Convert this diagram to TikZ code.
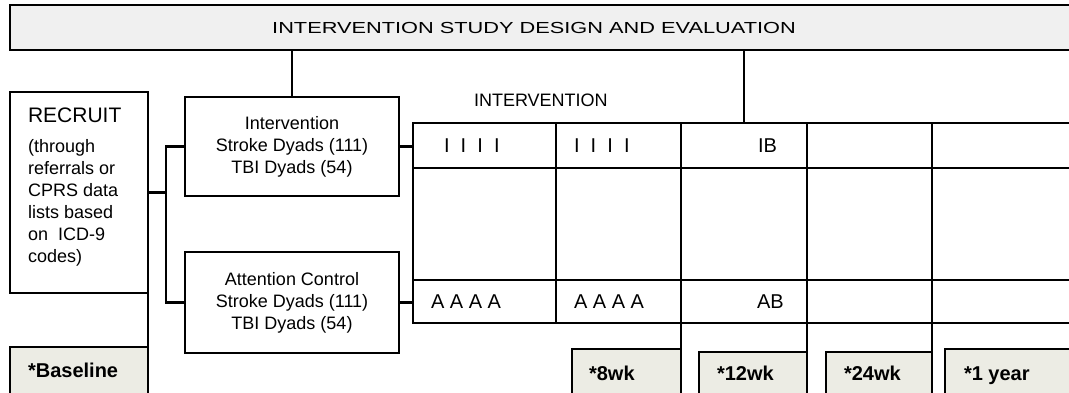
\documentclass[tikz,border=0pt]{standalone}
\usepackage{fontspec}
\setmainfont{Liberation Sans}
\usepackage{graphicx}
\usepackage{tikz}
\usetikzlibrary{positioning}
\definecolor{titlegray}{RGB}{240,240,240}
\definecolor{timegray}{RGB}{236,236,228}

\begin{document}
\begin{tikzpicture}[x=1pt, y=-1pt, line width=2.1pt,
    box/.style={draw=black, rectangle, inner sep=0pt, outer sep=0pt},
    cell/.style={box, anchor=north west},
    timebox/.style={box, fill=timegray, anchor=north west, minimum height=60pt},
    timetext/.style={font=\fontsize{20}{24}\selectfont\bfseries, anchor=base west, inner sep=0pt},
    celltext/.style={font=\fontsize{20}{24}\selectfont, anchor=west, inner sep=0pt},
    grouptext/.style={font=\fontsize{18}{22}\selectfont, align=center}]
    \useasboundingbox (0,0) rectangle (1069,393);
    \clip (0,0) rectangle (1069,393);

    % draw title bar
    \node[box, fill=titlegray, minimum width=1070pt, minimum height=45pt,
      font=\fontsize{16}{18}\selectfont] (title) at (545,27.5)
      {\hspace*{-22pt}\raisebox{-3pt}{\scalebox{1.36}[1]{INTERVENTION STUDY DESIGN AND EVALUATION}}};

    % draw recruit box
    \node[box, minimum width=138pt, minimum height=201pt] (recruit) at (79,192.5) {};
    \node[anchor=north west, inner sep=0pt, align=left, font=\fontsize{18}{22}\selectfont] (recruittext)
      at ([xshift=17pt, yshift=-15pt]recruit.north west)
      {{\fontsize{21}{25}\selectfont RECRUIT}\\[8pt](through\\referrals or\\CPRS data\\lists based\\on\ \ ICD-9\\codes)};

    % draw group boxes
    \node[box, grouptext, minimum width=214pt, minimum height=99pt] (intv) at (292,146.5)
      {Intervention\\Stroke Dyads (111)\\TBI Dyads (54)};
    \node[box, grouptext, minimum width=214pt, minimum height=101pt] (ctrl) at (292,302.5)
      {Attention Control\\Stroke Dyads (111)\\TBI Dyads (54)};

    % draw session table
    \node[font=\fontsize{18}{22}\selectfont, anchor=base west, inner sep=0pt] (armlabel) at (473,107) {INTERVENTION};
    \foreach \x/\w [count=\i] in {413/143, 556/125, 681/126, 807/125, 932/150}
      \foreach \y/\h [count=\j] in {123/45, 168/112, 280/43}
        \node[cell, minimum width=\w pt, minimum height=\h pt] (c\i\j) at (\x,\y) {};

    \node[celltext] (ione) at ([xshift=30pt]c11.west) {I\ \ I\ \ I\ \ I};
    \node[celltext] (itwo) at ([xshift=17pt]c21.west) {I\ \ I\ \ I\ \ I};
    \node[celltext] (ib) at ([xshift=76pt]c31.west) {IB};
    \node[celltext] (aone) at ([xshift=17pt]c13.west) {A A A A};
    \node[celltext] (atwo) at ([xshift=17pt]c23.west) {A A A A};
    \node[celltext] (ab) at ([xshift=75pt]c33.west) {AB};

    % draw assessment boxes
    \node[timebox, minimum width=138pt] (base) at (10,347) {};
    \node[timebox, minimum width=109pt] (wk8) at (572,349) {};
    \node[timebox, minimum width=108pt] (wk12) at (699,352) {};
    \node[timebox, minimum width=106pt] (wk24) at (826,352) {};
    \node[timebox, minimum width=137pt] (yr1) at (945,349) {};

    \node[timetext] (basetext) at ([xshift=17pt, yshift=-30pt]base.north west) {*Baseline};
    \node[timetext] (wk8text) at ([xshift=16pt, yshift=-31pt]wk8.north west) {*8wk};
    \node[timetext] (wk12text) at ([xshift=17pt, yshift=-28pt]wk12.north west) {*12wk};
    \node[timetext] (wk24text) at ([xshift=17pt, yshift=-28pt]wk24.north west) {*24wk};
    \node[timetext] (yr1text) at ([xshift=18pt, yshift=-31pt]yr1.north west) {*1 year};

    % draw connectors
    \draw (title.south -| intv.north) -- (intv.north);
    \draw (title.south -| c31.north) -- (c31.north);
    \coordinate (split) at (166,192.5);
    \draw (recruit.east) -- (split);
    \draw (intv.west) -| (split) |- (ctrl.west);
    \draw (intv.east) -- (intv.east -| c11.west);
    \draw (ctrl.east) -- (ctrl.east -| c13.west);
    \draw (base.north east) -- (recruit.south east);
    \draw (wk8.north east) -- (c23.south east);
    \draw (wk12.north east) -- (c33.south east);
    \draw (wk24.north east) -- (c43.south east);
    \draw (yr1.north east) -- (c53.south east);
\end{tikzpicture}
\end{document}
